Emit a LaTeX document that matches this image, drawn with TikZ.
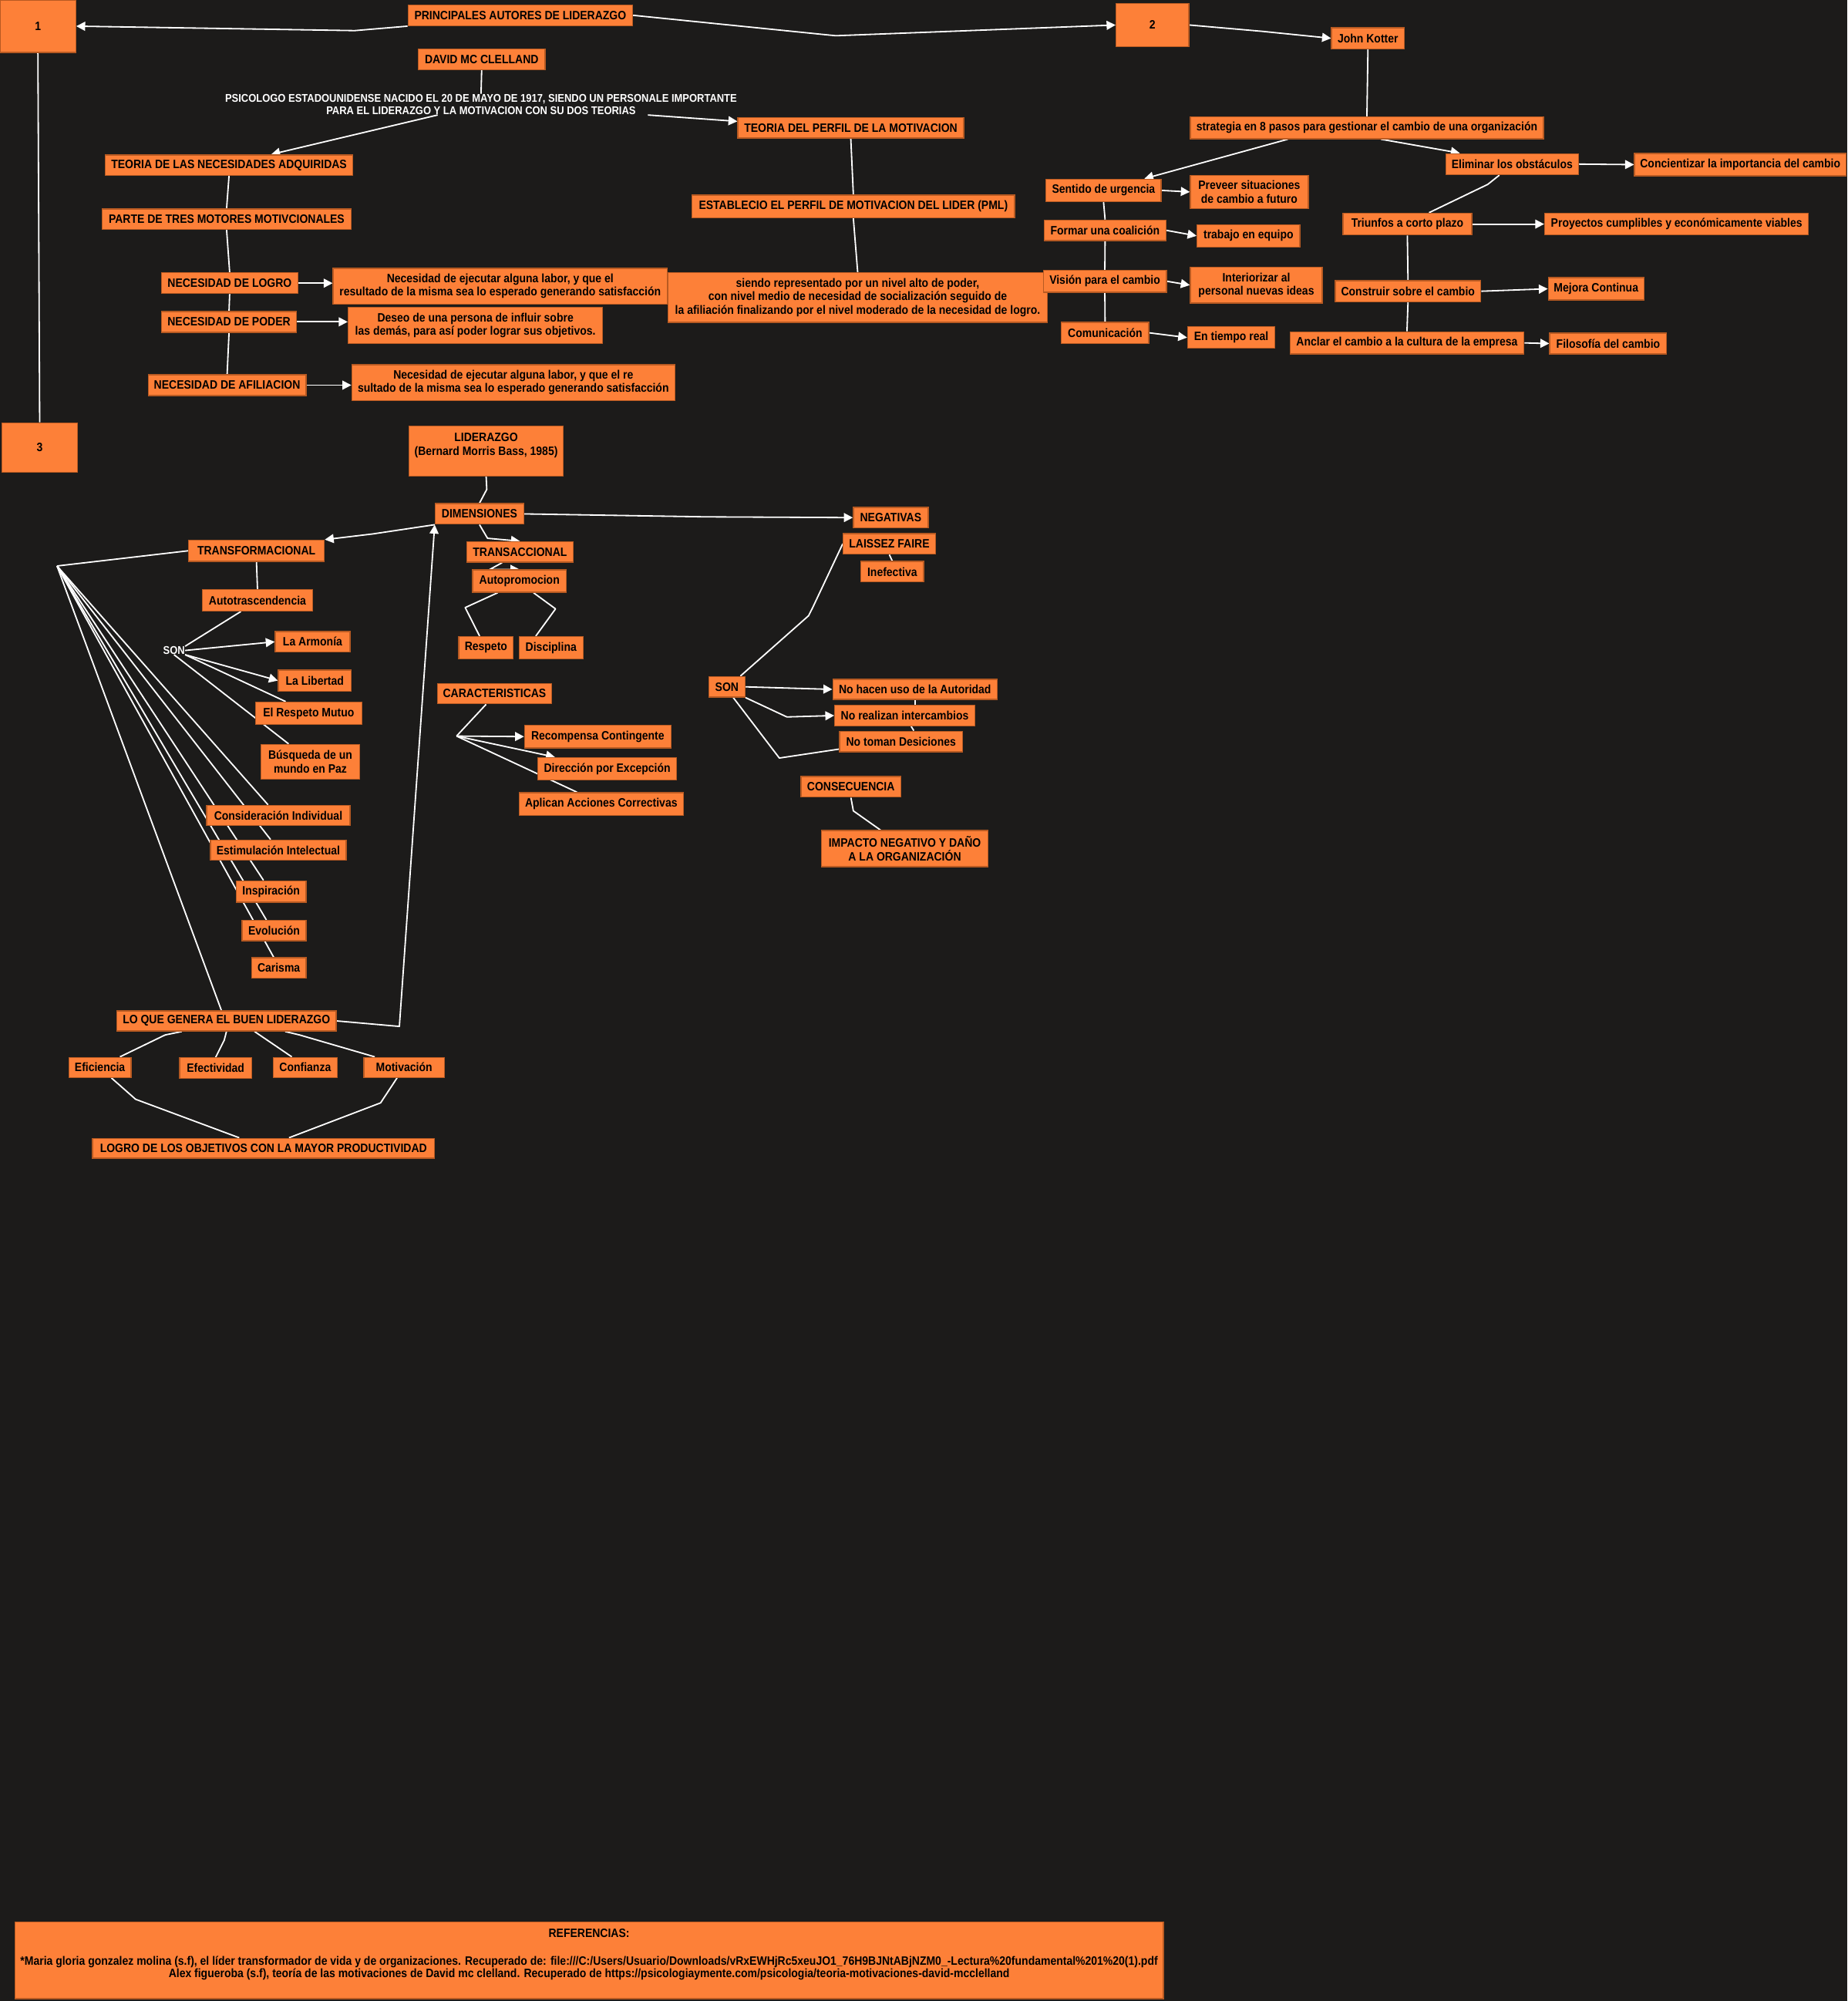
\documentclass[tikz,border=0pt]{standalone}
\usepackage{fontspec}
\setmainfont{Liberation Sans}[FakeStretch=0.89]
\usepackage{xcolor}
\usepackage{tikz}
\usetikzlibrary{arrows.meta,calc}
\definecolor{bgdark}{HTML}{1C1B1A}
\definecolor{boxfill}{HTML}{FD8038}
\definecolor{boxedge}{HTML}{B85A22}
\pgfdeclarelayer{back}
\pgfdeclarelayer{wires}
\pgfsetlayers{back,wires,main}

\begin{document}
\begin{tikzpicture}[x=1pt, y=-1pt,
    box/.style={draw=boxedge, line width=0.8pt, fill=boxfill, rectangle, inner sep=0pt, align=center, text=black, font=\fontsize{9.5}{10.5}\selectfont\bfseries},
    note/.style={inner sep=0pt, align=center, text=white, font=\fontsize{8.8}{10}\selectfont\bfseries},
    wire/.style={draw=white, line width=1.1pt, line join=round},
    arrow/.style={wire, -{Triangle[length=7pt,width=7pt]}}]
    \useasboundingbox (0,0) rectangle (1448,1568);
    \begin{pgfonlayer}{back}
        \fill[bgdark] (0,0) rectangle (1448,1568);
    \end{pgfonlayer}

    % Autores
    \node[box, minimum width=59.3pt, minimum height=41pt] (one) at (29.7,20.5) {1};
    \node[box, minimum width=176pt, minimum height=16.2pt] (princ) at (407.8,12) {PRINCIPALES AUTORES DE LIDERAZGO};
    \node[box, minimum width=57pt, minimum height=34pt] (two) at (903.2,19.6) {2};
    \node[box, minimum width=59.2pt, minimum height=38.7pt] (three) at (31.1,350.6) {3};

    % McClelland
    \node[box, minimum width=99.5pt, minimum height=16.2pt] (david) at (377.5,46.5) {DAVID MC CLELLAND};
    \node[note] (psico) at (377,81.8) {PSICOLOGO ESTADOUNIDENSE NACIDO EL 20 DE MAYO DE 1917, SIENDO UN PERSONALE IMPORTANTE\\PARA EL LIDERAZGO Y LA MOTIVACION CON SU DOS TEORIAS};
    \node[box, minimum width=194pt, minimum height=16pt] (teonec) at (179.5,129.4) {TEORIA DE LAS NECESIDADES ADQUIRIDAS};
    \node[box, minimum width=195pt, minimum height=16pt] (parte) at (177.6,171.7) {PARTE DE TRES MOTORES MOTIVCIONALES};
    \node[box, minimum width=106.8pt, minimum height=16.2pt] (logro) at (180,221.9) {NECESIDAD DE LOGRO};
    \node[box, minimum width=105.7pt, minimum height=16.3pt] (poder) at (179.5,252.2) {NECESIDAD DE PODER};
    \node[box, minimum width=123.7pt, minimum height=16.2pt] (afil) at (178,301.8) {NECESIDAD DE AFILIACION};
    \node[box, minimum width=261.8pt, minimum height=28pt] (desclogro) at (392,224.2) {Necesidad de ejecutar alguna labor, y que el\\resultado de la misma sea lo esperado generando satisfacción};
    \node[box, minimum width=199.4pt, minimum height=28.5pt] (descpoder) at (372.6,255) {Deseo de una persona de influir sobre\\las demás, para así poder lograr sus objetivos.};
    \node[box, minimum width=253.1pt, minimum height=28.1pt] (descafil) at (402.3,299.8) {Necesidad de ejecutar alguna labor, y que el re\\sultado de la misma sea lo esperado generando satisfacción};
    \node[box, minimum width=177pt, minimum height=16.2pt] (perfil) at (666.8,100.1) {TEORIA DEL PERFIL DE LA MOTIVACION};
    \node[box, minimum width=252.9pt, minimum height=17.7pt] (establ) at (668.8,161.8) {ESTABLECIO EL PERFIL DE MOTIVACION DEL LIDER (PML)};
    \node[box, minimum width=297.3pt, minimum height=38.8pt] (siendo) at (672.2,233.1) {siendo representado por un nivel alto de poder,\\con nivel medio de necesidad de socialización seguido de\\la afiliación finalizando por el nivel moderado de la necesidad de logro.};

    % Kotter
    \node[box, minimum width=57pt, minimum height=16.5pt] (kotter) at (1072.1,30) {John Kotter};
    \node[box, minimum width=276.8pt, minimum height=17.2pt] (estrat) at (1071.3,100.1) {strategia en 8 pasos para gestionar el cambio de una organización};
    \node[box, minimum width=90.3pt, minimum height=17.6pt] (urgencia) at (864.9,149.2) {Sentido de urgencia};
    \node[box, minimum width=92.4pt, minimum height=26pt] (preveer) at (979.1,150.4) {Preveer situaciones\\de cambio a futuro};
    \node[box, minimum width=95.2pt, minimum height=16.1pt] (coalicion) at (866.1,180.5) {Formar una coalición};
    \node[box, minimum width=80.6pt, minimum height=17.6pt] (equipo) at (978.5,184.8) {trabajo en equipo};
    \node[box, minimum width=96.5pt, minimum height=17.3pt] (vision) at (865.9,220.4) {Visión para el cambio};
    \node[box, minimum width=103.4pt, minimum height=28.1pt] (ideas) at (984.6,223.4) {Interiorizar al\\personal nuevas ideas};
    \node[box, minimum width=68.4pt, minimum height=16.5pt] (comunic) at (866.1,260.8) {Comunicación};
    \node[box, minimum width=68.4pt, minimum height=17pt] (tiempo) at (965,264.5) {En tiempo real};
    \node[box, minimum width=103.8pt, minimum height=16.5pt] (obstac) at (1185.1,128.6) {Eliminar los obstáculos};
    \node[box, minimum width=165.7pt, minimum height=17.5pt] (concien) at (1363.9,129) {Concientizar la importancia del cambio};
    \node[box, minimum width=101pt, minimum height=17.1pt] (triunfos) at (1103,175.6) {Triunfos a corto plazo};
    \node[box, minimum width=206.8pt, minimum height=17.1pt] (proyectos) at (1314,175.6) {Proyectos cumplibles y económicamente viables};
    \node[box, minimum width=114pt, minimum height=16.4pt] (construir) at (1103.5,228.2) {Construir sobre el cambio};
    \node[box, minimum width=74.9pt, minimum height=17.5pt] (mejora) at (1250.9,226.3) {Mejora Continua};
    \node[box, minimum width=183.3pt, minimum height=17.3pt] (anclar) at (1102.7,268.7) {Anclar el cambio a la cultura de la empresa};
    \node[box, minimum width=91.6pt, minimum height=16.3pt] (filosofia) at (1260.4,269.2) {Filosofía del cambio};

    % Bass
    \node[box, minimum width=121.1pt, minimum height=39.1pt] (lider) at (381,353.4) {LIDERAZGO\\(Bernard Morris Bass, 1985)\\\mbox{}};
    \node[box, minimum width=69.4pt, minimum height=16.1pt] (dimen) at (375.8,402.7) {DIMENSIONES};
    \node[box, minimum width=58.6pt, minimum height=16.1pt] (negat) at (698.1,405.6) {NEGATIVAS};
    \node[box, minimum width=72.3pt, minimum height=16pt] (laissez) at (697,426.2) {LAISSEZ FAIRE};
    \node[box, minimum width=49.2pt, minimum height=16.1pt] (inefect) at (699.3,448) {Inefectiva};
    \node[box, minimum width=106.3pt, minimum height=16.7pt] (transf) at (201,431.6) {TRANSFORMACIONAL};
    \node[box, minimum width=83.5pt, minimum height=16.1pt] (transac) at (407.5,432.5) {TRANSACCIONAL};
    \node[box, minimum width=73.4pt, minimum height=17.5pt] (autoprom) at (407.1,455.3) {Autopromocion};
    \node[box, minimum width=86.3pt, minimum height=16.7pt] (autotras) at (201.8,470.4) {Autotrascendencia};
    \node[note] (sontf) at (136.4,509.7) {SON};
    \node[box, minimum width=58.6pt, minimum height=16.1pt] (armonia) at (245,502.9) {La Armonía};
    \node[box, minimum width=42.6pt, minimum height=17.5pt] (respeto) at (380.9,507.6) {Respeto};
    \node[box, minimum width=50.2pt, minimum height=17.5pt] (disciplina) at (431.9,507.6) {Disciplina};
    \node[box, minimum width=57pt, minimum height=16.5pt] (libertad) at (246.7,533.3) {La Libertad};
    \node[box, minimum width=83.2pt, minimum height=17.5pt] (mutuo) at (241.9,558.9) {El Respeto Mutuo};
    \node[box, minimum width=77.7pt, minimum height=27.2pt] (paz) at (243.2,596.9) {Búsqueda de un\\mundo en Paz};
    \node[box, minimum width=89.7pt, minimum height=16pt] (caract) at (387.6,543.5) {CARACTERISTICAS};
    \node[box, minimum width=114.8pt, minimum height=17.7pt] (recomp) at (468.5,577.2) {Recompensa Contingente};
    \node[box, minimum width=108.9pt, minimum height=17.7pt] (excep) at (475.9,602.5) {Dirección por Excepción};
    \node[box, minimum width=128.9pt, minimum height=17.7pt] (correct) at (471.2,630) {Aplican Acciones Correctivas};
    \node[box, minimum width=28.4pt, minimum height=16.1pt] (sonlf) at (569.7,538.2) {SON};
    \node[box, minimum width=128.8pt, minimum height=15.6pt] (autoridad) at (717.1,540.2) {No hacen uso de la Autoridad};
    \node[box, minimum width=109.8pt, minimum height=16.1pt] (intercamb) at (709.1,560.7) {No realizan intercambios};
    \node[box, minimum width=96.3pt, minimum height=16.1pt] (desic) at (706.2,581) {No toman Desiciones};
    \node[box, minimum width=78.2pt, minimum height=16.1pt] (consec) at (666.9,616.6) {CONSECUENCIA};
    \node[box, minimum width=130.3pt, minimum height=28.3pt] (impacto) at (709.1,665) {IMPACTO NEGATIVO Y DAÑO\\A LA ORGANIZACIÓN};
    \node[box, minimum width=112.5pt, minimum height=15.7pt] (consid) at (218.1,638.9) {Consideración Individual};
    \node[box, minimum width=106.3pt, minimum height=15.8pt] (estimul) at (218.1,666.2) {Estimulación Intelectual};
    \node[box, minimum width=54.6pt, minimum height=16.8pt] (inspir) at (212.5,698.6) {Inspiración};
    \node[box, minimum width=50pt, minimum height=15.8pt] (evolu) at (214.8,729.2) {Evolución};
    \node[box, minimum width=42.6pt, minimum height=15.8pt] (carisma) at (218.5,758.4) {Carisma};
    \node[box, minimum width=172pt, minimum height=15.8pt] (genera) at (177.5,800) {LO QUE GENERA EL BUEN LIDERAZGO};
    \node[box, minimum width=48.7pt, minimum height=15.7pt] (eficien) at (78.3,836.4) {Eficiencia};
    \node[box, minimum width=56.4pt, minimum height=16.2pt] (efectiv) at (169,837) {Efectividad};
    \node[box, minimum width=49.9pt, minimum height=15.7pt] (confian) at (239.2,836.4) {Confianza};
    \node[box, minimum width=63.1pt, minimum height=15.7pt] (motivac) at (316.7,836.4) {Motivación};
    \node[box, minimum width=268.1pt, minimum height=15.7pt] (objetiv) at (206.5,899.8) {LOGRO DE LOS OBJETIVOS CON LA MAYOR PRODUCTIVIDAD};

    % Referencias
    \node[box, minimum width=900pt, minimum height=60pt, font=\fontsize{9.5}{9.6}\selectfont\bfseries] (refs) at (461.7,1536.2) {REFERENCIAS:\\[12pt]*Maria gloria gonzalez molina (s.f), el líder transformador de vida y de organizaciones. Recuperado de: file:///C:/Users/Usuario/Downloads/vRxEWHjRc5xeuJO1\_76H9BJNtABjNZM0\_-Lectura\%20fundamental\%201\%20(1).pdf\\Alex figueroba (s.f), teoría de las motivaciones de David mc clelland. Recuperado de https://psicologiaymente.com/psicologia/teoria-motivaciones-david-mcclelland\\[2pt]\mbox{}};

    \coordinate (fanT) at (44.7,443.5);
    \coordinate (fanC) at (357.8,576.8);

    \begin{pgfonlayer}{wires}
    % Autores
    \draw[arrow] (princ.south west) -- (278,24) -- (one.east);
    \draw[arrow] (princ.east) -- (655,28) -- (two.west);
    \draw[arrow] (two.east) -- (988.6,24.5) -- (kotter.west);
    \draw[wire] (one.south) -- (three.north);
    % McClelland
    \draw[wire] (david.south) -- (psico.north);
    \draw[arrow] ([xshift=-34pt]psico.south) -- ([xshift=33pt]teonec.north);
    \draw[arrow] ([xshift=-70pt]psico.south east) -- ([yshift=5pt]perfil.west);
    \draw[wire] (teonec.south) -- (parte.north);
    \draw[wire] (parte.south) -- (logro.north);
    \draw[wire] (logro.south) -- (poder.north);
    \draw[wire] (poder.south) -- (afil.north);
    \draw[arrow] (logro.east) -- (logro.east -| desclogro.west);
    \draw[arrow] (poder.east) -- (poder.east -| descpoder.west);
    \draw[arrow] (afil.east) -- (afil.east -| descafil.west);
    \draw[wire] (perfil.south) -- (establ.north);
    \draw[wire] (establ.south) -- (siendo.north);
    % Kotter
    \draw[wire] (kotter.south) -- (estrat.north);
    \draw[arrow] ([xshift=-62pt]estrat.south) -- ([xshift=32pt]urgencia.north);
    \draw[arrow] ([xshift=11pt]estrat.south) -- ([xshift=-41pt]obstac.north);
    \draw[arrow] (obstac.east) -- (concien.west);
    \draw[wire] ([xshift=-10pt]obstac.south) -- (1166,144.5) -- ([xshift=17pt]triunfos.north);
    \draw[arrow] (triunfos.east) -- (proyectos.west);
    \draw[wire] (triunfos.south) -- (construir.north);
    \draw[arrow] (construir.east) -- (mejora.west);
    \draw[wire] (construir.south) -- (anclar.north);
    \draw[arrow] (anclar.east) -- (filosofia.west);
    \draw[arrow] (urgencia.east) -- (preveer.west);
    \draw[wire] (urgencia.south) -- (coalicion.north);
    \draw[arrow] (coalicion.east) -- (equipo.west);
    \draw[wire] (coalicion.south) -- (vision.north);
    \draw[arrow] (vision.east) -- (ideas.west);
    \draw[wire] (vision.south) -- (comunic.north);
    \draw[arrow] (comunic.east) -- (tiempo.west);
    % Bass
    \draw[wire] (lider.south) -- (381.5,383.5) -- (dimen.north);
    \draw[arrow] (dimen.south west) -- (292.1,418.4) -- (transf.north east);
    \draw[arrow] (dimen.south) -- (382.1,421.8) -- (transac.north);
    \draw[arrow] (dimen.east) -- (553.1,405) -- (negat.west);
    \draw[arrow] ([xshift=-14pt]transac.south) -- (383.7,446.3) -- (autoprom.north);
    \draw[wire] ([xshift=-17pt]autoprom.south) -- (364.6,476.1) -- ([xshift=-5pt]respeto.north);
    \draw[wire] ([xshift=11pt]autoprom.south) -- (435.4,477.1) -- ([xshift=-12pt]disciplina.north);
    \draw[wire] (transf.south) -- (autotras.north);
    \draw[wire] (transf.west) -- (fanT);
    \draw[wire] (fanT) -- ([xshift=-8pt]consid.north);
    \draw[wire] (fanT) -- ([xshift=-6pt]estimul.north);
    \draw[wire] (fanT) -- ([xshift=-6pt]inspir.north);
    \draw[wire] (fanT) -- ([xshift=-6pt]evolu.north);
    \draw[wire] (fanT) -- ([xshift=-4pt]carisma.north);
    \draw[wire] (fanT) -- ([xshift=-4pt]genera.north);
    \draw[wire] ([xshift=-13pt]autotras.south) -- (sontf.north east);
    \draw[arrow] (sontf.east) -- (armonia.west);
    \draw[arrow] (sontf.south east) -- (libertad.west);
    \draw[wire] (sontf.south east) -- ([xshift=-18pt]mutuo.north);
    \draw[wire] (sontf.south) -- ([xshift=-17pt]paz.north);
    \draw[wire] ([xshift=-6.6pt]caract.south) -- (fanC);
    \draw[arrow] (fanC) -- (recomp.west);
    \draw[arrow] (fanC) -- ([xshift=-41pt]excep.north);
    \draw[wire] (fanC) -- ([xshift=-19pt]correct.north);
    \draw[wire] ([xshift=-4pt]sonlf.north east) -- (633.7,482.5) -- (636.6,476.8) -- (laissez.west);
    \draw[wire] (laissez.south) -- (inefect.north);
    \draw[arrow] (sonlf.east) -- (autoridad.west);
    \draw[arrow] (sonlf.south east) -- (616.7,561.8) -- (intercamb.west);
    \draw[wire] ([xshift=5pt]sonlf.south) -- (610.8,594) -- ([yshift=-6pt]desic.west);
    \draw[wire] (autoridad.south) -- (autoridad.south |- intercamb.north);
    \draw[wire] ([xshift=5pt]intercamb.south) -- ([xshift=10pt]desic.north);
    \draw[wire] (consec.south) -- (668.8,635.4) -- ([xshift=-19pt]impacto.north);
    \draw[arrow] (genera.east) -- (313,804.3) -- (dimen.south west);
    \draw[wire] ([xshift=-35pt]genera.south) -- (129.4,811) -- ([xshift=15.7pt]eficien.north);
    \draw[wire] (genera.south) -- (175.7,815.2) -- (efectiv.north);
    \draw[wire] ([xshift=22pt]genera.south) -- ([xshift=-10.5pt]confian.north);
    \draw[wire] ([xshift=46pt]genera.south) -- (234.8,811) -- ([xshift=-23pt]motivac.north);
    \draw[wire] ([xshift=9pt]eficien.south) -- (106.3,861.4) -- ([xshift=-19pt]objetiv.north);
    \draw[wire] ([xshift=-5.5pt]motivac.south) -- (298.3,864.2) -- ([xshift=20pt]objetiv.north);
    \end{pgfonlayer}
\end{tikzpicture}
\end{document}
